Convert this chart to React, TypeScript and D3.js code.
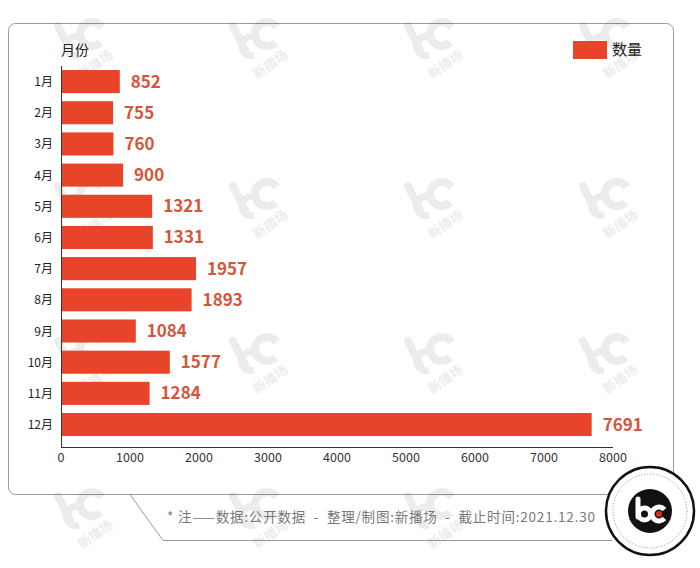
import React from 'react';
import * as d3 from 'd3';

const months = ['1月', '2月', '3月', '4月', '5月', '6月', '7月', '8月', '9月', '10月', '11月', '12月'];
const counts = [852, 755, 760, 900, 1321, 1331, 1957, 1893, 1084, 1577, 1284, 7691];
const xTicks = [0, 1000, 2000, 3000, 4000, 5000, 6000, 7000, 8000];
const footNote = '* 注——数据:公开数据  -  整理/制图:新播场  -  截止时间:2021.12.30';

const W = 700;
const H = 568;
const font = '"Noto Sans CJK SC", "Noto Sans", sans-serif';
const barColor = '#e8442a';
const labelColor = '#d4553a';

// faint watermark positions
const marks = [
  [80, 40], [255, 40], [430, 40], [605, 40],
  [80, 200], [255, 200], [430, 200], [605, 200],
  [80, 355], [255, 355], [430, 355], [605, 355],
  [80, 510], [255, 510], [430, 510],
];

const arc = d3.arc();

const Watermark: React.FC<{ x: number; y: number }> = ({ x, y }) => (
  <g transform={`translate(${x},${y})`} opacity={0.07}>
    <path d="M-22,-14 L-10,10" stroke="#000" strokeWidth={8} strokeLinecap="round" />
    <path d={arc({ innerRadius: 6, outerRadius: 13, startAngle: Math.PI * 0.9, endAngle: Math.PI * 2.2 }) || ''} transform="translate(-4,6)" fill="#000" />
    <path d={arc({ innerRadius: 8, outerRadius: 16, startAngle: Math.PI * 0.75, endAngle: Math.PI * 2.3 }) || ''} transform="translate(12,-6)" fill="#000" />
    <text x={18} y={28} transform="rotate(-35 18 28)" fontFamily={font} fontSize={13} fontWeight={700} textAnchor="middle" fill="#000">新播场</text>
  </g>
);

export default function App() {
  const x = d3.scaleLinear().domain([0, 8000]).range([61, 613]);
  const y = d3.scaleBand<string>().domain(months).range([66, 447]).paddingInner(0.26).paddingOuter(0.24).align(0.27);
  const bh = y.bandwidth();

  return (
    <svg width={W} height={H} style={{ position: 'absolute', left: 0, top: 0, background: '#fff' }}>
      <rect x={0} y={0} width={W} height={H} fill="#fff" />
      {/* card */}
      <rect x={8.5} y={23.5} width={665} height={471} rx={7} fill="#fff" stroke="#9a9a9a" strokeWidth={1} />
      {/* footer tab */}
      <path d="M130,494.5 L163,540.5 L612,540.5" fill="none" stroke="#9a9a9a" strokeWidth={1} />

      {marks.map(([mx, my], i) => <Watermark key={i} x={mx} y={my} />)}

      {/* legend */}
      <rect x={573} y={41} width={34} height={18} fill={barColor} />
      <text x={612} y={55} fontFamily={font} fontSize={15} fill="#222">数量</text>

      {/* y title */}
      <text x={61} y={55} fontFamily={font} fontSize={14} fill="#222">月份</text>

      {/* bars */}
      {months.map((m, i) => (
        <g key={m}>
          <rect x={x(0)} y={y(m)} width={x(counts[i]) - x(0)} height={bh} fill={barColor} />
          <text x={x(counts[i]) + 11} y={(y(m) || 0) + bh / 2 + 6} fontFamily={font} fontSize={17} fontWeight={700} fill={labelColor}>
            {counts[i]}
          </text>
          <text x={53} y={(y(m) || 0) + bh / 2 + 4.5} fontFamily={font} fontSize={12} textAnchor="end" fill="#222">
            {m}
          </text>
        </g>
      ))}

      {/* axes */}
      <line x1={61.5} x2={61.5} y1={66} y2={447} stroke="#333" strokeWidth={1} />
      <line x1={61} x2={613} y1={447.5} y2={447.5} stroke="#333" strokeWidth={1} />
      {xTicks.map((t) => (
        <text key={t} x={x(t)} y={462} fontFamily={font} fontSize={12.5} textAnchor="middle" fill="#333">
          {t}
        </text>
      ))}

      {/* footnote */}
      <text x={167} y={522} fontFamily={font} fontSize={13.5} fill="#777" textLength={428} lengthAdjust="spacing" style={{ whiteSpace: 'pre' }}>
        {footNote}
      </text>

      {/* round logo */}
      <g transform="translate(650,511)">
        <circle r={44} fill="#fff" stroke="#111" strokeWidth={2.5} />
        <circle r={37} fill="none" stroke="#999" strokeWidth={0.8} strokeDasharray="1.5 1.5" />
        <circle r={22} fill="#111" />
        <path d="M-12,-12 L-12,6" stroke="#fff" strokeWidth={5} strokeLinecap="round" />
        <circle cx={-5.5} cy={3} r={6} fill="none" stroke="#fff" strokeWidth={5} />
        <path d={arc({ innerRadius: 4.5, outerRadius: 9.5, startAngle: Math.PI * 0.72, endAngle: Math.PI * 2.28 }) || ''} transform="translate(9,3)" fill="#fff" />
        <circle cx={9} cy={3} r={3} fill="#e02a2a" />
      </g>
    </svg>
  );
}
